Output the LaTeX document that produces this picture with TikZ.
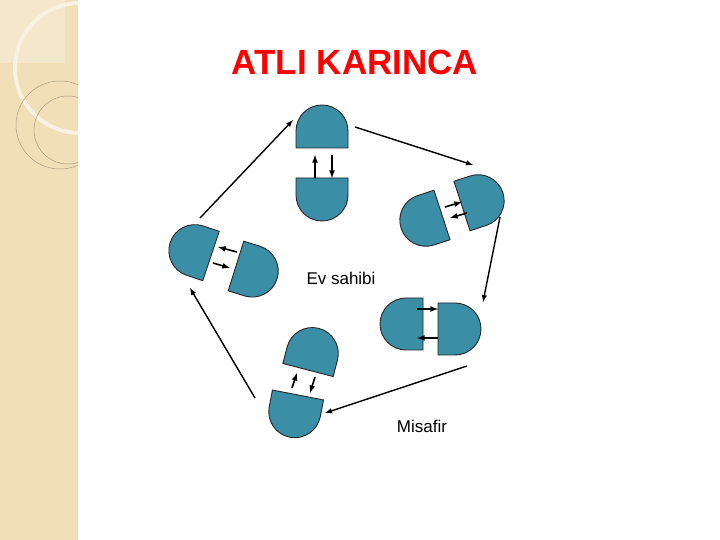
\documentclass[tikz,border=0pt]{standalone}
\usepackage{fontspec}
\setmainfont{Liberation Sans}
\begin{document}
\begin{tikzpicture}[x=1pt,y=1pt,
  dome/.pic={\draw[fill=domefill,draw=black!85,line width=0.9pt] (-26,0) -- (-26,17) arc[start angle=180,end angle=0,radius=26] -- (26,0) -- cycle;},
  bigarrow/.style={-latex,line width=1.4pt},
  smallarrow/.style={-latex,line width=1.6pt},
  lbl/.style={font=\fontsize{17}{20}\selectfont}]
\definecolor{domefill}{HTML}{3A8EA6}
\definecolor{strip}{HTML}{F0DFB7}
\useasboundingbox (0,0) rectangle (720,540);
\fill[white] (0,0) rectangle (720,540);
\begin{scope}
\clip (0,0) rectangle (78,540);
\fill[strip] (0,0) rectangle (78,540);
\fill[white,opacity=0.3] (0,477) rectangle (65,540);
\draw[white!60!strip,line width=4pt] (80,472) circle[radius=65];
\draw[black!30!strip,line width=0.5pt] (60,415) circle[radius=44];
\draw[black!30!strip,line width=0.5pt] (68,410) circle[radius=34];
\end{scope}
\node[text=red,font=\bfseries\fontsize{35}{40}\selectfont] (title) at (355,478) {ATLI KARINCA};
\pic at (322,392) {dome}; \pic[rotate=180] at (322,362) {dome};
\pic[rotate=-72] at (462,334) {dome}; \pic[rotate=108] at (442,325) {dome};
\pic[rotate=71.6] at (211,284) {dome}; \pic[rotate=-107.4] at (236,274) {dome};
\pic[rotate=90] at (423,216) {dome}; \pic[rotate=-90] at (438,211) {dome};
\pic[rotate=-14.6] at (308,170) {dome}; \pic[rotate=169] at (298,145) {dome};
\coordinate (a1) at (315,362); \coordinate (a2) at (315,385);
\coordinate (a3) at (332,385); \coordinate (a4) at (332,362);
\coordinate (b1) at (445,333); \coordinate (b2) at (462,338);
\coordinate (b3) at (467,327); \coordinate (b4) at (450,322);
\coordinate (c1) at (237,288); \coordinate (c2) at (218,293);
\coordinate (c3) at (213,277); \coordinate (c4) at (230,272);
\coordinate (d1) at (417,231); \coordinate (d2) at (438,231);
\coordinate (d3) at (438,202); \coordinate (d4) at (417,202);
\coordinate (e1) at (292,152); \coordinate (e2) at (297,167);
\coordinate (e3) at (315,163); \coordinate (e4) at (310,147);
\foreach \p in {a,b,c,d,e}{\draw[smallarrow] (\p1) -- (\p2); \draw[smallarrow] (\p3) -- (\p4);}
\coordinate (g1) at (200,322); \coordinate (g2) at (293,420);
\coordinate (h1) at (355,413); \coordinate (h2) at (473,375);
\coordinate (i1) at (500,323); \coordinate (i2) at (483,238);
\coordinate (j1) at (467,174); \coordinate (j2) at (325,127);
\coordinate (k1) at (255,142); \coordinate (k2) at (190,252);
\foreach \p in {g,h,i,j,k}{\draw[bigarrow] (\p1) -- (\p2);}
\node[lbl] (ev) at (341,262) {Ev sahibi};
\node[lbl] (mis) at (422,114) {Misafir};
\end{tikzpicture}
\end{document}
